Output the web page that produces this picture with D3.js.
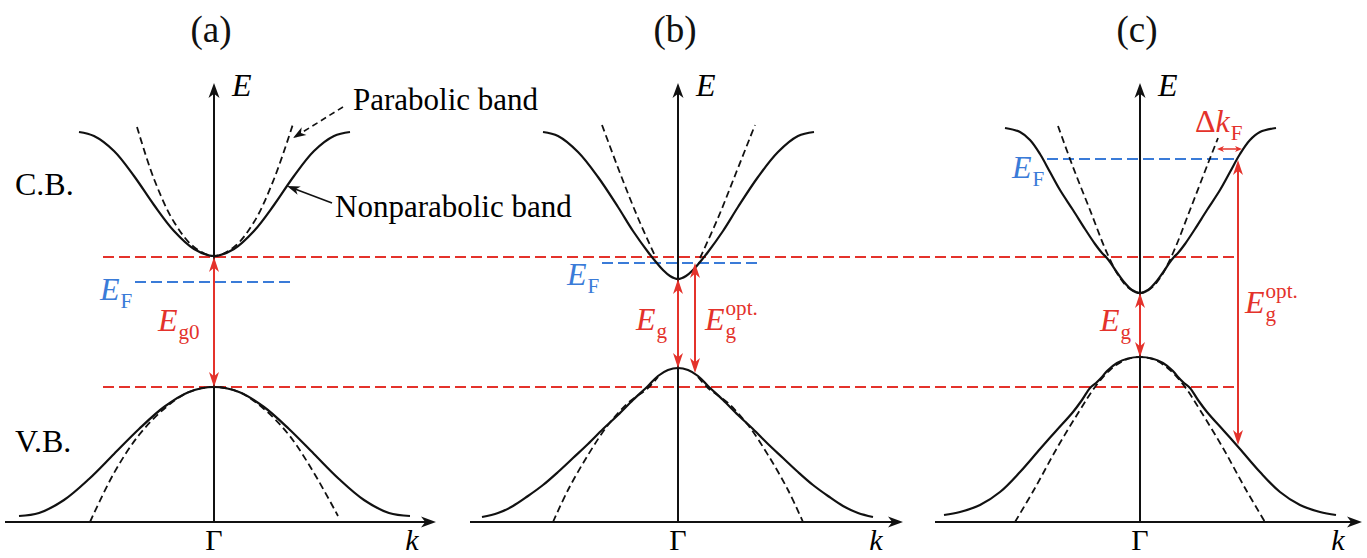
<!DOCTYPE html>
<html lang="en">
<head>
    <meta charset="UTF-8">
    <title>Band_Nonparabolicity</title>
    <style>
        body { margin: 0; background: #fff; }
        svg text { font-family: "Liberation Serif", "Times New Roman", Times, serif; }
    </style>
</head>
<body>
    <svg id="chart" width="1367" height="558"></svg>

    <script src="https://cdn.jsdelivr.net/npm/d3@7/dist/d3.min.js"></script>
    <script>
        // Band curves: [k, E]  (k relative to Gamma, E relative to VB top of (a))
        const panelTitles = ["(a)", "(b)", "(c)"];

        const cbSolidA = [[-1.35,2.55],[-1.2,2.51],[-1.0,2.36],[-0.8,2.11],[-0.6,1.82],[-0.4,1.56],[-0.2,1.38],[0,1.31],
                          [0.2,1.38],[0.4,1.56],[0.6,1.82],[0.8,2.11],[1.0,2.36],[1.2,2.51],[1.36,2.55]];
        const cbParabA = [[-0.77,2.60],[-0.6,2.08],[-0.4,1.65],[-0.2,1.40],[0,1.31],[0.2,1.40],[0.4,1.65],[0.6,2.08],[0.79,2.63]];
        const vbSolidA = [[-1.95,-1.29],[-1.75,-1.26],[-1.5,-1.13],[-1.25,-0.92],[-1.0,-0.67],[-0.75,-0.42],[-0.5,-0.20],[-0.25,-0.05],[0,0],
                          [0.25,-0.05],[0.5,-0.20],[0.75,-0.42],[1.0,-0.67],[1.25,-0.92],[1.5,-1.13],[1.75,-1.26],[1.96,-1.29]];
        const vbParabA = [[-1.24,-1.35],[-1.0,-0.86],[-0.75,-0.48],[-0.5,-0.22],[-0.25,-0.05],[0,0],
                          [0.25,-0.05],[0.5,-0.22],[0.75,-0.48],[1.0,-0.86],[1.24,-1.29]];

        const cbSolidB = [[-1.35,2.55],[-1.2,2.51],[-1.0,2.35],[-0.8,2.10],[-0.6,1.80],[-0.45,1.56],[-0.3,1.35],[-0.22,1.25],[-0.15,1.17],[-0.08,1.11],[0,1.08],
                          [0.08,1.11],[0.15,1.17],[0.22,1.25],[0.3,1.35],[0.45,1.56],[0.6,1.80],[0.8,2.10],[1.0,2.35],[1.2,2.51],[1.36,2.55]];
        const cbParabB = [[-0.76,2.62],[-0.58,2.14],[-0.40,1.69],[-0.22,1.29],null,
                          [0.22,1.29],[0.40,1.69],[0.58,2.14],[0.77,2.62]];
        const vbSolidB = [[-1.96,-1.30],[-1.8,-1.26],[-1.65,-1.19],[-1.5,-1.09],[-1.35,-0.98],[-1.2,-0.85],[-1.05,-0.71],[-0.9,-0.57],[-0.75,-0.42],
                          [-0.6,-0.28],[-0.45,-0.13],[-0.3,0.01],[-0.2,0.11],[-0.1,0.17],[0,0.19],
                          [0.1,0.17],[0.2,0.11],[0.3,0.01],[0.45,-0.13],[0.6,-0.28],[0.75,-0.42],[0.9,-0.57],[1.05,-0.71],[1.2,-0.85],
                          [1.35,-0.98],[1.5,-1.09],[1.65,-1.19],[1.8,-1.26],[1.95,-1.30]];
        const vbParabB = [[-1.25,-1.35],[-1.1,-1.03],[-0.9,-0.68],[-0.7,-0.38],[-0.5,-0.16],[-0.3,-0.01],[-0.2,0.10],null,
                          [0.2,0.10],[0.3,-0.01],[0.5,-0.16],[0.7,-0.38],[0.9,-0.68],[1.1,-1.03],[1.25,-1.35]];

        const cbSolidC = [[-1.35,2.59],[-1.2,2.55],[-1.1,2.47],[-1.0,2.33],[-0.9,2.15],[-0.8,1.97],[-0.67,1.77],[-0.55,1.58],[-0.45,1.43],
                          [-0.38,1.34],[-0.34,1.30],[-0.3,1.25],[-0.24,1.16],[-0.16,1.05],[-0.08,0.97],[0,0.94],
                          [0.08,0.97],[0.16,1.05],[0.24,1.16],[0.3,1.25],[0.34,1.30],[0.38,1.34],[0.45,1.43],[0.55,1.58],[0.67,1.77],
                          [0.8,1.97],[0.9,2.15],[1.0,2.33],[1.1,2.47],[1.2,2.55],[1.36,2.59]];
        const cbParabC = [[-0.82,2.61],[-0.67,2.20],[-0.5,1.77],[-0.33,1.34],[-0.2,1.09],[-0.1,0.98],[0,0.94],
                          [0.1,0.98],[0.2,1.09],[0.33,1.34],[0.5,1.77],[0.67,2.21],[0.78,2.49]];
        const vbSolidC = [[-1.96,-1.28],[-1.8,-1.25],[-1.6,-1.18],[-1.4,-1.05],[-1.2,-0.85],[-1.0,-0.62],[-0.84,-0.44],[-0.67,-0.25],[-0.58,-0.13],
                          [-0.5,-0.01],[-0.44,0.04],[-0.38,0.10],[-0.33,0.16],[-0.23,0.24],[-0.12,0.285],[0,0.30],
                          [0.12,0.285],[0.23,0.24],[0.33,0.16],[0.38,0.10],[0.44,0.04],[0.5,-0.01],[0.58,-0.13],[0.67,-0.25],[0.84,-0.44],
                          [1.0,-0.62],[1.2,-0.85],[1.4,-1.05],[1.6,-1.18],[1.8,-1.25],[1.96,-1.28]];
        const vbParabC = [[-1.25,-1.35],[-1.05,-1.01],[-0.83,-0.61],[-0.6,-0.23],[-0.45,0.0],[-0.3,0.17],[-0.15,0.27],[0,0.30],
                          [0.15,0.27],[0.3,0.17],[0.45,0.0],[0.6,-0.23],[0.83,-0.61],[1.05,-1.01],[1.25,-1.35]];

        const solidBands = [[cbSolidA, vbSolidA], [cbSolidB, vbSolidB], [cbSolidC, vbSolidC]];
        const parabBands = [[cbParabA, vbParabA], [cbParabB, vbParabB], [cbParabC, vbParabC]];

        // Energy levels
        const gapEdges = [1.30, 0];              // red dashed reference lines (band edges of (a))
        const fermiLevel = [1.05, 1.24, 2.28];
        const fermiSpan = [[-0.79, 0.76], [-0.76, 0.79], [-0.93, 0.95]];

        // Gap arrows: [panel, k, E from, E to]
        const gapArrows = [
            [0, 0, 0, 1.30],
            [1, 0, 0.19, 1.08],
            [1, 0.17, 0.14, 1.24],
            [2, 0, 0.30, 0.94],
            [2, 0.98, -0.58, 2.27]
        ];
        const deltaKF = [0.77, 1.02, 2.38];      // k from, k to, E

        // Layout
        const layout = {
            centers: [214, 678, 1140],
            kUnit: 100,
            kAxis: [[-2.09, 2.22], [-2.08, 2.25], [-2.05, 2.22]],
            eAxis: [-1.35, 3.04],
            refLine: [-1.11, 0.95],   // start k in (a), end k in (c)
            red: "#e4322b",
            blue: "#3a7bd8",
            black: "#111"
        };

        const svg = d3.select("#chart");
        const eScale = d3.scaleLinear().domain([0, 1]).range([387, 287]);
        const kScales = layout.centers.map(c => d3.scaleLinear().domain([0, 1]).range([c, c + layout.kUnit]));

        function arrow(g, x1, y1, x2, y2, opt) {
            const dx = x2 - x1, dy = y2 - y1, L = Math.hypot(dx, dy);
            const ux = dx / L, uy = dy / L, nx = -uy, ny = ux;
            const len = opt.len, wid = opt.wid;
            const sx = opt.both ? x1 + ux * len * 0.6 : x1, sy = opt.both ? y1 + uy * len * 0.6 : y1;
            g.append("line")
                .attr("x1", sx).attr("y1", sy)
                .attr("x2", x2 - ux * len * 0.6).attr("y2", y2 - uy * len * 0.6)
                .attr("stroke", opt.color).attr("stroke-width", opt.width)
                .attr("stroke-dasharray", opt.dash || null);
            const head = (tx, ty, vx, vy) => {
                const bx = tx - vx * len, by = ty - vy * len;
                const mx = tx - vx * len * 0.72, my = ty - vy * len * 0.72;
                g.append("path")
                    .attr("d", `M${tx},${ty} L${bx + nx * wid / 2},${by + ny * wid / 2} L${mx},${my} L${bx - nx * wid / 2},${by - ny * wid / 2} Z`)
                    .attr("fill", opt.color);
            };
            head(x2, y2, ux, uy);
            if (opt.both) head(x1, y1, -ux, -uy);
        }

        function mathLabel(g, x, y, parts, sub, sup, color, size) {
            size = size || 32;
            const t = g.append("text").attr("x", x).attr("y", y)
                .attr("fill", color).style("font-size", size + "px");
            parts.forEach(p => t.append("tspan").text(p[0]).style("font-style", p[1] ? "italic" : "normal"));
            const w = t.node().getComputedTextLength();
            if (sub) g.append("text").attr("x", x + w + 1).attr("y", y + 8)
                .attr("fill", color).style("font-size", (size * 0.66) + "px").text(sub);
            if (sup) g.append("text").attr("x", x + w + 1).attr("y", y - 15)
                .attr("fill", color).style("font-size", (size * 0.66) + "px").text(sup);
        }

        const line = d3.line().defined(d => d).curve(d3.curveCatmullRom.alpha(0.5));

        // Red dashed reference lines across all panels
        const refG = svg.append("g");
        gapEdges.forEach(e => {
            refG.append("line")
                .attr("x1", kScales[0](layout.refLine[0])).attr("x2", kScales[2](layout.refLine[1]))
                .attr("y1", eScale(e)).attr("y2", eScale(e))
                .attr("stroke", layout.red).attr("stroke-width", 1.8).attr("stroke-dasharray", "11,5");
        });

        layout.centers.forEach((c, i) => {
            const kx = kScales[i];
            const g = svg.append("g").attr("class", "panel");

            // Title
            g.append("text").attr("x", c - 3).attr("y", 42).attr("text-anchor", "middle")
                .style("font-size", "37px").attr("fill", layout.black).text(panelTitles[i]);

            // Fermi level
            g.append("line")
                .attr("x1", kx(fermiSpan[i][0])).attr("x2", kx(fermiSpan[i][1]))
                .attr("y1", eScale(fermiLevel[i])).attr("y2", eScale(fermiLevel[i]))
                .attr("stroke", layout.blue).attr("stroke-width", 1.8).attr("stroke-dasharray", "11,5");

            // Axes
            arrow(g, kx(layout.kAxis[i][0]), eScale(layout.eAxis[0]), kx(layout.kAxis[i][1]), eScale(layout.eAxis[0]),
                { color: layout.black, width: 2, len: 15, wid: 11 });
            arrow(g, c, eScale(layout.eAxis[0]), c, eScale(layout.eAxis[1]),
                { color: layout.black, width: 2, len: 15, wid: 11 });
            g.append("text").attr("x", c + 18).attr("y", 96).style("font-size", "32px")
                .style("font-style", "italic").text("E");
            g.append("text").attr("x", c).attr("y", 550).attr("text-anchor", "middle")
                .style("font-size", "30px").text("Γ");
            g.append("text").attr("x", c + 198).attr("y", 550).attr("text-anchor", "middle")
                .style("font-size", "30px").style("font-style", "italic").text("k");

            // Bands
            parabBands[i].forEach(b => {
                g.append("path").attr("d", line(b.map(d => d && [kx(d[0]), eScale(d[1])])))
                    .attr("fill", "none").attr("stroke", layout.black).attr("stroke-width", 1.8)
                    .attr("stroke-dasharray", "7,4");
            });
            solidBands[i].forEach(b => {
                g.append("path").attr("d", line(b.map(d => [kx(d[0]), eScale(d[1])])))
                    .attr("fill", "none").attr("stroke", layout.black).attr("stroke-width", 2.2);
            });
        });

        // Gap arrows
        const arrG = svg.append("g");
        gapArrows.forEach(a => {
            const kx = kScales[a[0]];
            arrow(arrG, kx(a[1]), eScale(a[2]), kx(a[1]), eScale(a[3]),
                { color: layout.red, width: 2, len: 15, wid: 10, both: true });
        });
        arrow(arrG, kScales[2](deltaKF[0]), eScale(deltaKF[2]), kScales[2](deltaKF[1]), eScale(deltaKF[2]),
            { color: layout.red, width: 1.5, len: 7, wid: 6, both: true });

        // Labels
        const labG = svg.append("g");
        const lab = (p, k, e, parts, sub, sup, color) => mathLabel(labG, kScales[p](k), eScale(e), parts, sub, sup, color);
        lab(0, -1.14, 0.87, [["E", true]], "F", null, layout.blue);
        lab(1, -1.11, 1.02, [["E", true]], "F", null, layout.blue);
        lab(2, -1.28, 2.09, [["E", true]], "F", null, layout.blue);
        lab(0, -0.56, 0.56, [["E", true]], "g0", null, layout.red);
        lab(1, -0.42, 0.57, [["E", true]], "g", null, layout.red);
        lab(1, 0.27, 0.57, [["E", true]], "g", "opt.", layout.red);
        lab(2, -0.40, 0.56, [["E", true]], "g", null, layout.red);
        lab(2, 1.05, 0.74, [["E", true]], "g", "opt.", layout.red);
        lab(2, 0.55, 2.55, [["Δ", false], ["k", true]], "F", null, layout.red);

        // Text annotations in panel (a)
        const kA = kScales[0];
        labG.append("text").attr("x", 15).attr("y", 195).style("font-size", "32px").text("C.B.");
        labG.append("text").attr("x", 15).attr("y", 452).style("font-size", "32px").text("V.B.");
        labG.append("text").attr("x", kA(1.39)).attr("y", eScale(2.77)).style("font-size", "31px").text("Parabolic band");
        labG.append("text").attr("x", kA(1.21)).attr("y", eScale(1.70)).style("font-size", "31px").text("Nonparabolic band");
        arrow(labG, kA(1.29), eScale(2.80), kA(0.79), eScale(2.49),
            { color: layout.black, width: 1.6, len: 13, wid: 9, dash: "6,4" });
        arrow(labG, kA(1.18), eScale(1.84), kA(0.73), eScale(2.01),
            { color: layout.black, width: 1.6, len: 13, wid: 9 });
    </script>
</body>
</html>
